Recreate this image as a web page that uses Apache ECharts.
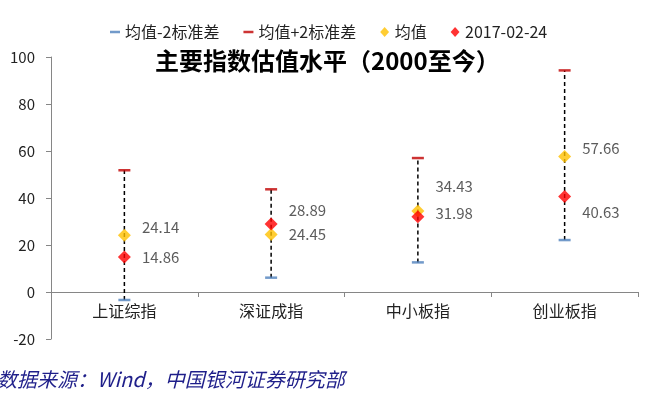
<!DOCTYPE html>
<html>
<head>
<meta charset="utf-8">
<script src="https://cdn.jsdelivr.net/npm/echarts@6/dist/echarts.min.js"></script>
<style>html,body{margin:0;padding:0;background:#fff;}#c{width:656px;height:404px;}</style>
</head>
<body>
<div id="c"></div>
<script>
const categories = ['上证综指', '深证成指', '中小板指', '创业板指'];
const lowerBand = [-3.4, 6.1, 12.6, 22.1];
const upperBand = [51.8, 43.7, 57.0, 94.3];
const meanValues = [24.14, 24.45, 34.43, 57.66];
const currentValues = [14.86, 28.89, 31.98, 40.63];
const yTicks = { min: -20, max: 100, interval: 20 };

// label offsets (styling only)
const meanLabelOffsets = [[0, -8], [0, 0], [0, -25], [0, -8]];
const currentLabelOffsets = [[0, 0], [0, -14], [0, -4], [0, 16]];

const FONT = 'Noto Sans CJK SC';
const GRID = { left: 51, right: 18, top: 57, bottom: 65 };
const plotH = 404 - GRID.top - GRID.bottom;
const zeroOffset = -plotH * (0 - yTicks.min) / (yTicks.max - yTicks.min);

const chart = echarts.init(document.getElementById('c'), null, { renderer: 'canvas' });

const labelStyle = { show: true, position: 'right', distance: 11, color: '#333', fontSize: 15, fontFamily: FONT };

const option = {
  animation: false,
  textStyle: { fontFamily: FONT },
  grid: GRID,
  legend: {
    left: 105, top: 19,
    itemWidth: 10, itemHeight: 10, itemGap: 24,
    textStyle: { fontSize: 16, color: '#222', fontFamily: FONT },
    data: [
      { name: '均值-2标准差', icon: 'path://M0,0H10V2.5H0Z' },
      { name: '均值+2标准差', icon: 'path://M0,0H10V2.5H0Z' },
      { name: '均值', icon: 'path://M4,0L8,4.5L4,9L0,4.5Z' },
      { name: '2017-02-24', icon: 'path://M4,0L8,4.5L4,9L0,4.5Z' }
    ]
  },
  graphic: [
    { type: 'text', left: 155, top: 49, style: { text: '主要指数估值水平（2000至今）', fontSize: 24, fontWeight: 'bold', fill: '#000', fontFamily: FONT } },
    { type: 'text', left: -3, top: 369, style: { text: '数据来源：Wind，中国银河证券研究部', fontSize: 20, fontStyle: 'italic', fill: '#1f1f8a', fontFamily: FONT } }
  ],
  xAxis: {
    type: 'category', data: categories,
    offset: zeroOffset,
    axisLine: { onZero: false, lineStyle: { color: '#868686', width: 1 } },
    axisTick: { show: true, alignWithLabel: false, length: 5, lineStyle: { color: '#868686' } },
    axisLabel: { fontSize: 16, color: '#222', margin: 11, fontFamily: FONT },
    splitLine: { show: false }
  },
  yAxis: {
    type: 'value', min: yTicks.min, max: yTicks.max, interval: yTicks.interval,
    axisLine: { show: true, lineStyle: { color: '#868686', width: 1 } },
    axisTick: { show: true, length: 5, lineStyle: { color: '#868686' } },
    axisLabel: { fontSize: 15, color: '#222', margin: 16, fontFamily: FONT },
    splitLine: { show: false }
  },
  series: [
    {
      name: 'range', type: 'custom', z: 1, silent: true,
      data: categories.map((c, i) => [i, lowerBand[i], upperBand[i]]),
      renderItem: function (params, api) {
        const p1 = api.coord([api.value(0), api.value(1)]);
        const p2 = api.coord([api.value(0), api.value(2)]);
        return {
          type: 'line',
          shape: { x1: p1[0], y1: p1[1], x2: p2[0], y2: p2[1] },
          style: { stroke: '#000', lineWidth: 1.5, lineDash: [4, 3] }
        };
      }
    },
    {
      name: '均值-2标准差', type: 'scatter', z: 3,
      symbol: 'rect', symbolSize: [12, 2.5],
      itemStyle: { color: '#4F81BD' },
      data: lowerBand
    },
    {
      name: '均值+2标准差', type: 'scatter', z: 3,
      symbol: 'rect', symbolSize: [12, 2.5],
      itemStyle: { color: '#C00000' },
      data: upperBand
    },
    {
      name: '均值', type: 'scatter', z: 4,
      symbol: 'diamond', symbolSize: 13,
      itemStyle: { color: '#FFC000' },
      label: labelStyle,
      data: meanValues.map((v, i) => ({ value: v, label: { offset: meanLabelOffsets[i] } }))
    },
    {
      name: '2017-02-24', type: 'scatter', z: 5,
      symbol: 'diamond', symbolSize: 13,
      itemStyle: { color: '#FF0000' },
      label: labelStyle,
      data: currentValues.map((v, i) => ({ value: v, label: { offset: currentLabelOffsets[i] } }))
    }
  ]
};
chart.setOption(option);
</script>
</body>
</html>
